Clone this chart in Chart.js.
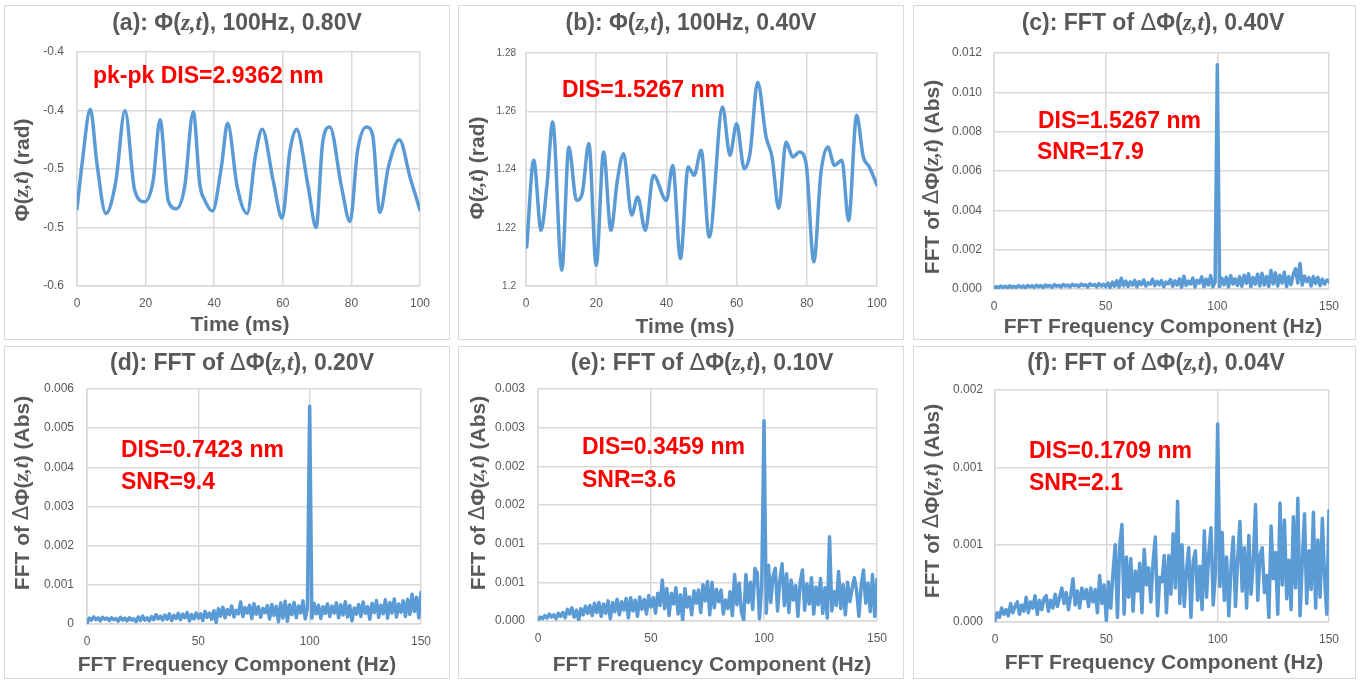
<!DOCTYPE html>
<html>
<head>
<meta charset="utf-8">
<script src="https://cdn.jsdelivr.net/npm/chart.js@4/dist/chart.umd.min.js"></script>
<style>
  body { margin: 0; background: #fff; width: 1368px; height: 680px; position: relative; overflow: hidden; }
  .painel { position: absolute; border: 1px solid #d9d9d9; box-sizing: border-box; }
  canvas { position: absolute; }
</style>
</head>
<body>
<div class="painel" style="left:4px;top:5px;width:446px;height:335px"></div>
<canvas id="grA" width="446" height="335" style="left:4px;top:5px"></canvas>
<div class="painel" style="left:458px;top:5px;width:446px;height:335px"></div>
<canvas id="grB" width="446" height="335" style="left:458px;top:5px"></canvas>
<div class="painel" style="left:913px;top:5px;width:443px;height:335px"></div>
<canvas id="grC" width="443" height="335" style="left:913px;top:5px"></canvas>
<div class="painel" style="left:4px;top:346px;width:446px;height:333px"></div>
<canvas id="grD" width="446" height="333" style="left:4px;top:346px"></canvas>
<div class="painel" style="left:458px;top:346px;width:446px;height:333px"></div>
<canvas id="grE" width="446" height="333" style="left:458px;top:346px"></canvas>
<div class="painel" style="left:913px;top:346px;width:443px;height:333px"></div>
<canvas id="grF" width="443" height="333" style="left:913px;top:346px"></canvas>
<script>
// (a) fase no tempo, 0.80V
const tempoA = [0, 1.5, 3.9, 5.8, 8.4, 11.3, 14, 16.8, 19.7, 22.2, 24.2, 26.6, 29, 31.4, 33.9, 35.8, 37.3, 39.5, 42.1, 43.9,
  46.7, 49.6, 52, 54, 57.2, 59.8, 62.1, 64, 67.4, 69.7, 71.6, 73.7, 77.1, 79.6, 81.8, 84.4, 86.2, 88.3, 90.8, 94, 97.1, 100];
const phiA = [-0.534, -0.495, -0.449, -0.495, -0.538, -0.511, -0.450, -0.518, -0.528, -0.510, -0.458, -0.527, -0.534, -0.515, -0.451, -0.513, -0.527, -0.536, -0.498, -0.461,
  -0.515, -0.538, -0.489, -0.466, -0.510, -0.542, -0.484, -0.466, -0.515, -0.550, -0.478, -0.464, -0.515, -0.545, -0.484, -0.464, -0.471, -0.537, -0.498, -0.475, -0.507, -0.535];

// (b) fase no tempo, 0.40V
const tempoB = [0.2, 2.2, 4.3, 6, 7.6, 10.2, 12.2, 14.4, 16, 17.9, 20, 22.1, 24.2, 26, 27.8, 30.1, 31.8, 34, 36.3, 40,
  41.8, 44, 46.2, 47.9, 49.9, 52.2, 56, 58.1, 60, 62.2, 63.8, 66, 68.4, 70.1, 72, 74.1, 76, 77.9, 79.8, 82,
  84, 86, 87.9, 90, 91.9, 94.2, 96.1, 97.8, 100];
const phiB = [1.2134, 1.2432, 1.2191, 1.235, 1.2563, 1.2054, 1.2477, 1.2294, 1.2317, 1.2489, 1.2071, 1.246, 1.2191, 1.236, 1.2454, 1.2243, 1.2306, 1.2191, 1.238, 1.2294,
  1.2414, 1.2094, 1.2409, 1.238, 1.2466, 1.2168, 1.2615, 1.2449, 1.2557, 1.2403, 1.2454, 1.27, 1.2512, 1.2443, 1.2266, 1.2494, 1.2443, 1.246, 1.242, 1.2083,
  1.2386, 1.2477, 1.2414, 1.2432, 1.2225, 1.2586, 1.2443, 1.2409, 1.2346];

// espectros FFT, 0..150 Hz de 1 em 1 Hz, valores em unidades de 1e-4
const passoHz = 1;
const fftC = [
  0.3, 1.2, 0.6, 1.5, 0.8, 1.4, 0.7, 1.6, 0.9, 1.3,
  0.8, 1.7, 1.0, 1.5, 0.7, 1.8, 1.1, 1.6, 0.9, 1.9,
  1.2, 1.7, 0.8, 2.0, 1.3, 1.8, 0.9, 2.2, 1.4, 1.9,
  1.0, 2.3, 1.5, 2.0, 1.1, 2.4, 1.6, 2.1, 1.2, 2.5,
  1.7, 2.2, 1.0, 2.6, 1.8, 2.3, 1.1, 2.7, 1.5, 2.4,
  1.2, 3.0, 0.8, 3.5, 1.4, 4.2, 1.0, 5.5, 1.6, 4.0,
  1.3, 3.6, 2.0, 4.4, 1.1, 3.8, 2.2, 4.6, 1.5, 3.2,
  2.4, 5.0, 1.7, 3.9, 2.1, 4.3, 1.2, 3.5, 2.6, 4.8,
  1.4, 4.1, 2.0, 5.2, 0.9, 6.5, 1.8, 4.0, 2.5, 5.6,
  1.0, 4.4, 3.0, 6.2, 1.2, 5.0, 2.0, 6.8, 1.1, 3.5,
  114,
  1.3, 5.5, 2.2, 6.0, 1.0, 6.8, 2.5, 5.2, 1.8, 6.3,
  1.4, 7.0, 2.9, 7.8, 1.2, 5.9, 2.4, 7.5, 1.6, 8.0,
  2.0, 6.4, 1.3, 9.4, 2.6, 8.2, 1.5, 7.0, 3.0, 8.5,
  1.2, 6.3, 2.2, 7.5, 10.3, 3.0, 13.0, 2.0, 6.5, 3.8,
  5.8, 1.5, 6.3, 2.8, 5.9, 1.7, 5.0, 2.4, 4.6, 3.6];
const fftD = [
  0.2, 1.5, 1.0, 1.8, 1.1, 1.6, 0.8, 1.7, 1.2, 1.5,
  0.9, 1.6, 1.1, 1.4, 0.7, 1.7, 1.0, 1.5, 0.8, 1.6,
  1.0, 1.3, 0.6, 1.8, 0.9, 2.0, 1.0, 1.6, 0.8, 1.9,
  1.1, 2.4, 1.3, 2.0, 1.0, 2.3, 1.2, 2.6, 0.9, 2.2,
  1.4, 2.7, 1.1, 2.5, 1.6, 2.9, 0.8, 2.4, 1.3, 2.8,
  1.5, 2.6, 0.9, 3.2, 1.7, 2.8, 1.2, 3.4, 0.4, 3.9,
  2.0, 4.3, 1.6, 3.7, 2.4, 4.6, 1.8, 3.5, 2.6, 5.6,
  1.9, 4.2, 2.8, 4.8, 1.4, 5.2, 2.5, 4.4, 1.7, 4.0,
  2.9, 4.7, 1.3, 5.0, 2.2, 4.5, 0.6, 5.4, 1.5, 5.8,
  0.7, 4.9, 2.4, 5.5, 1.6, 4.6, 2.8, 5.9, 1.3, 4.2,
  55.6,
  1.5, 5.3, 2.6, 4.8, 1.4, 4.4, 2.7, 5.1, 1.9, 4.6,
  2.8, 5.4, 1.6, 4.9, 2.3, 5.7, 1.8, 4.7, 0.8, 4.1,
  2.5, 5.0, 1.9, 5.6, 2.7, 4.4, 1.2, 5.3, 2.9, 6.0,
  1.7, 4.8, 2.6, 6.2, 1.5, 5.5, 2.8, 6.4, 1.8, 5.1,
  3.0, 5.9, 1.9, 6.3, 2.4, 7.6, 3.2, 6.8, 1.6, 8.1];
const fftE = [
  0.1, 0.5, 0.3, 0.7, 0.4, 0.9, 0.5, 0.8, 0.3, 1.0,
  0.6, 1.1, 0.4, 1.5, 0.9, 1.7, 0.5, 1.4, 0.1, 1.6,
  0.8, 1.9, 1.0, 2.0, 0.7, 2.3, 1.1, 2.4, 0.6, 2.2,
  1.0, 2.6, 0.3, 2.4, 1.2, 2.8, 0.8, 2.5, 1.4, 2.9,
  0.4, 3.0, 1.3, 2.7, 0.6, 3.1, 1.5, 2.8, 0.9, 3.3,
  1.8, 3.0, 1.0, 3.6, 2.0, 5.3, 1.6, 4.2, 0.7, 3.6,
  2.2, 4.3, 0.9, 3.4, 0.1, 4.2, 1.8, 3.1, 0.8, 3.9,
  2.3, 4.0, 1.1, 4.7, 2.6, 5.1, 0.8, 5.0, 1.7, 4.1,
  2.5, 4.0, 0.9, 2.7, 1.6, 3.8, 0.7, 6.0, 2.1, 4.9,
  1.2, 0.1, 6.0, 2.4, 5.0, 1.5, 6.8, 6.2, 0.3, 4.6,
  25.9,
  1.0, 7.2, 2.4, 5.8, 6.8, 1.3, 5.2, 7.4, 2.0, 6.1,
  1.1, 5.3, 2.7, 4.6, 0.6, 5.0, 6.6, 1.4, 4.8, 2.2,
  5.6, 0.9, 4.4, 2.1, 5.5, 1.0, 4.3, 0.4, 10.9, 1.3,
  3.8, 2.0, 6.4, 1.6, 4.7, 0.8, 5.0, 2.5, 4.2, 5.6,
  3.9, 0.6, 4.5, 6.6, 2.3, 4.9, 1.2, 6.0, 0.6, 5.4];
const fftF = [
  0.1, 0.6, 0.3, 0.9, 0.5, 0.8, 0.4, 1.2, 0.6, 1.0,
  1.3, 0.5, 1.1, 0.7, 1.6, 0.6, 1.3, 0.9, 1.7, 0.5,
  1.4, 0.8, 1.5, 1.7, 0.7, 1.4, 0.9, 1.8, 1.0, 1.6,
  2.2, 1.2, 1.9, 0.8, 1.7, 2.8, 1.1, 2.0, 0.9, 2.2,
  1.5, 2.1, 1.0, 2.2, 1.3, 2.1, 0.6, 3.0, 1.2, 2.4,
  0.1, 2.6, 0.9, 3.2, 5.0, 0.3, 4.9, 6.3, 0.5, 4.2,
  1.6, 4.1, 0.7, 3.3, 2.0, 3.8, 0.6, 4.7, 2.4, 3.5,
  1.3, 3.9, 5.5, 0.4, 2.9, 2.6, 4.3, 0.6, 4.3, 1.8,
  5.7, 2.2, 7.8, 1.2, 5.0, 1.0, 3.3, 4.8, 0.3, 3.9,
  4.6, 1.4, 3.6, 0.8, 5.9, 1.6, 4.4, 6.1, 1.1, 3.2,
  12.8,
  2.3, 5.8, 1.4, 4.2, 0.4, 3.6, 5.5, 1.0, 4.1, 6.5,
  2.0, 4.8, 0.9, 5.6, 1.8, 3.9, 7.6, 1.4, 4.3, 4.8,
  1.9, 3.0, 0.3, 6.2, 2.8, 4.5, 0.5, 7.7, 2.4, 6.6,
  1.5, 4.0, 0.8, 6.8, 2.2, 8.0, 0.4, 3.9, 7.0, 1.2,
  4.6, 2.1, 7.1, 0.9, 5.3, 1.6, 6.7, 2.9, 0.5, 7.2];

// rótulos dos eixos Y (como aparecem no original)
const rotulosYA = ['-0.6', '-0.5', '-0.5', '-0.4', '-0.4'];
const rotulosYB = ['1.2', '1.22', '1.24', '1.26', '1.28'];
const rotulosYC = ['0.000', '0.002', '0.004', '0.006', '0.008', '0.010', '0.012'];
const rotulosYD = ['0', '0.001', '0.002', '0.003', '0.004', '0.005', '0.006'];
const rotulosYE = ['0.000', '0.001', '0.001', '0.002', '0.002', '0.003', '0.003'];
const rotulosYF = ['0.000', '0.001', '0.001', '0.002'];

const corLinha = '#5B9BD5';
const corTexto = '#595959';
const corGrade = '#d9d9d9';

const serieTempo = (t, v) => t.map((x, i) => ({ x, y: v[i] }));
const serieFFT = (v) => v.map((y, i) => ({ x: i * passoHz, y: y * 1e-4 }));

// textos com itálico (z,t) desenhados à mão
const textos = {};

function fonte(tipo, tam) {
  if (tipo === 1) return `italic bold ${tam}px "Liberation Serif"`;
  if (tipo === 2) return `${tam}px "DejaVu Sans"`;
  return `bold ${tam}px "Liberation Sans"`;
}

function desenharSegs(ctx, segs, x, y, tam, cor, ang) {
  ctx.save();
  ctx.translate(x, y);
  ctx.rotate(ang);
  ctx.fillStyle = cor;
  ctx.textAlign = 'left';
  ctx.textBaseline = 'middle';
  let larg = 0;
  segs.forEach((s) => { ctx.font = fonte(s[1], tam); larg += ctx.measureText(s[0]).width; });
  let cx = -larg / 2;
  segs.forEach((s) => {
    ctx.font = fonte(s[1], tam);
    ctx.fillText(s[0], cx, 0);
    cx += ctx.measureText(s[0]).width;
  });
  ctx.restore();
}

const textoRico = {
  id: 'textoRico',
  afterDraw(chart) {
    const t = textos[chart.canvas.id];
    if (!t) return;
    const ctx = chart.ctx;
    desenharSegs(ctx, t.titulo, t.posTitulo[0], t.posTitulo[1], 23, corTexto, 0);
    desenharSegs(ctx, [[t.eixoX, 0]], t.posX[0], t.posX[1], 21, corTexto, 0);
    desenharSegs(ctx, t.eixoY, t.posY[0], t.posY[1], 21, corTexto, -Math.PI / 2);
    ctx.save();
    ctx.fillStyle = '#ff0000';
    ctx.font = 'bold 23px "Liberation Sans"';
    ctx.textAlign = 'left';
    ctx.textBaseline = 'middle';
    t.notas.forEach((n) => ctx.fillText(n[0], n[1], n[2]));
    ctx.restore();
  }
};

const yTempo = [['Φ(', 0], ['z,t', 1], [') (rad)', 0]];
const yFFT = [['FFT of ', 0], ['Δ', 2], ['Φ(', 0], ['z,t', 1], [') (Abs)', 0]];
const tituloFFT = (letra, volt) => [['(' + letra + '): FFT of ', 0], ['Δ', 2], ['Φ(', 0], ['z,t', 1], ['), ' + volt, 0]];

function criarGrafico(id, cfg) {
  const canvas = document.getElementById(id);
  const W = canvas.width, H = canvas.height;
  const [L, T, R, B] = cfg.area;
  return new Chart(canvas.getContext('2d'), {
    type: 'line',
    data: {
      datasets: [{
        data: cfg.pontos,
        borderColor: corLinha,
        borderWidth: cfg.espessura,
        borderJoinStyle: 'round',
        borderCapStyle: 'round',
        pointRadius: 0,
        fill: false,
        tension: 0,
        cubicInterpolationMode: cfg.suave ? 'monotone' : 'default'
      }]
    },
    options: {
      animation: false,
      responsive: false,
      layout: { padding: { left: 2, top: T, right: W - R, bottom: H - B - 30 } },
      plugins: { legend: { display: false }, tooltip: { enabled: false } },
      scales: {
        x: {
          type: 'linear', min: cfg.x[0], max: cfg.x[1],
          afterFit: (s) => { s.height = 30; },
          ticks: { stepSize: cfg.x[2], color: corTexto, font: { size: 12, family: 'Liberation Sans' }, padding: 10, maxRotation: 0 },
          grid: { color: corGrade, lineWidth: 1.5, drawTicks: false },
          border: { color: corGrade, width: 1.5 }
        },
        y: {
          min: cfg.y[0], max: cfg.y[1],
          afterFit: (s) => { s.width = L - 2; },
          ticks: { stepSize: cfg.y[2], callback: (v, i) => cfg.rotulosY[i], color: corTexto,
            font: { size: cfg.tamY || 12, family: 'Liberation Sans' }, padding: cfg.gapY },
          grid: { color: corGrade, lineWidth: 1.5, drawTicks: false },
          border: { color: corGrade, width: 1.5 }
        }
      }
    },
    plugins: [textoRico]
  });
}

// (a)
textos.grA = {
  titulo: [['(a): Φ(', 0], ['z,t', 1], ['), 100Hz, 0.80V', 0]], posTitulo: [233, 19],
  eixoX: 'Time (ms)', posX: [236, 320], eixoY: yTempo, posY: [19, 165],
  notas: [['pk-pk DIS=2.9362 nm', 89, 72]]
};
criarGrafico('grA', { area: [73, 47, 416, 281], pontos: serieTempo(tempoA, phiA), espessura: 3.5, suave: true,
  x: [0, 100, 20], y: [-0.6, -0.4, 0.05], rotulosY: rotulosYA, gapY: 13 });

// (b)
textos.grB = {
  titulo: [['(b): Φ(', 0], ['z,t', 1], ['), 100Hz, 0.40V', 0]], posTitulo: [233, 19],
  eixoX: 'Time (ms)', posX: [227, 322], eixoY: yTempo, posY: [20, 163],
  notas: [['DIS=1.5267 nm', 104, 86]]
};
criarGrafico('grB', { area: [68, 48, 419, 281], pontos: serieTempo(tempoB, phiB), espessura: 3.5, suave: true,
  x: [0, 100, 20], y: [1.2, 1.28, 0.02], rotulosY: rotulosYB, gapY: 10, tamY: 10 });

// (c)
textos.grC = {
  titulo: tituloFFT('c', '0.40V'), posTitulo: [240, 19],
  eixoX: 'FFT Frequency Component (Hz)', posX: [250, 322], eixoY: yFFT, posY: [20, 172],
  notas: [['DIS=1.5267 nm', 125, 117], ['SNR=17.9', 124, 148]]
};
criarGrafico('grC', { area: [81, 48, 416, 284], pontos: serieFFT(fftC), espessura: 3.5,
  x: [0, 150, 50], y: [0, 0.012, 0.002], rotulosY: rotulosYC, gapY: 12 });

// (d)
textos.grD = {
  titulo: tituloFFT('d', '0.20V'), posTitulo: [238, 18],
  eixoX: 'FFT Frequency Component (Hz)', posX: [233, 319], eixoY: yFFT, posY: [19, 147],
  notas: [['DIS=0.7423 nm', 117, 105], ['SNR=9.4', 117, 137]]
};
criarGrafico('grD', { area: [83, 43, 417, 278], pontos: serieFFT(fftD), espessura: 3.5,
  x: [0, 150, 50], y: [0, 0.006, 0.001], rotulosY: rotulosYD, gapY: 13 });

// (e)
textos.grE = {
  titulo: tituloFFT('e', '0.10V'), posTitulo: [244, 18],
  eixoX: 'FFT Frequency Component (Hz)', posX: [254, 319], eixoY: yFFT, posY: [21, 147],
  notas: [['DIS=0.3459 nm', 124, 102], ['SNR=3.6', 124, 135]]
};
criarGrafico('grE', { area: [80, 43, 419, 275], pontos: serieFFT(fftE), espessura: 3.5,
  x: [0, 150, 50], y: [0, 0.003, 0.0005], rotulosY: rotulosYE, gapY: 13 });

// (f)
textos.grF = {
  titulo: tituloFFT('f', '0.04V'), posTitulo: [243, 18],
  eixoX: 'FFT Frequency Component (Hz)', posX: [251, 317], eixoY: yFFT, posY: [20, 155],
  notas: [['DIS=0.1709 nm', 116, 106], ['SNR=2.1', 116, 138]]
};
criarGrafico('grF', { area: [82, 44, 416, 276], pontos: serieFFT(fftF), espessura: 3.5,
  x: [0, 150, 50], y: [0, 0.0015, 0.0005], rotulosY: rotulosYF, gapY: 12 });
</script>
</body>
</html>
